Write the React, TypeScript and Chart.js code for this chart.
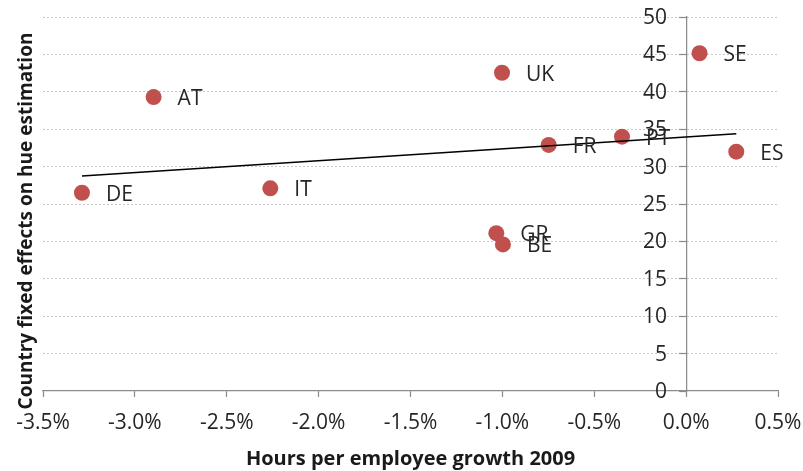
import React, { useEffect, useRef } from 'react';
import { Chart, registerables } from 'chart.js';

Chart.register(...registerables);

// ---- data ----
const countries = ['DE', 'AT', 'IT', 'UK', 'GR', 'BE', 'FR', 'PT', 'SE', 'ES'];
const hoursGrowth = [-3.288, -2.898, -2.263, -1.002, -1.033, -0.997, -0.748, -0.349, 0.073, 0.273];
const fixedEffects = [26.5, 39.3, 27.1, 42.55, 21.1, 19.6, 32.9, 34.0, 45.15, 32.0];

const xAxisRange = [-3.5, 0.5];
const xAxisStep = 0.5;
const yAxisRange = [0, 50];
const yAxisStep = 5;

const xTitle = 'Hours per employee growth 2009';
const yTitle = 'Country fixed effects on hue estimation';

const FONT = "'Open Sans', 'Liberation Sans', sans-serif";

function linearFit(xs: number[], ys: number[]) {
  const n = xs.length;
  const mx = xs.reduce((a, b) => a + b, 0) / n;
  const my = ys.reduce((a, b) => a + b, 0) / n;
  let sxy = 0;
  let sxx = 0;
  for (let i = 0; i < n; i++) {
    sxy += (xs[i] - mx) * (ys[i] - my);
    sxx += (xs[i] - mx) * (xs[i] - mx);
  }
  const slope = sxy / sxx;
  const intercept = my - slope * mx;
  return { slope, intercept };
}

export default function App() {
  const canvasRef = useRef<HTMLCanvasElement | null>(null);

  useEffect(() => {
    document.body.style.margin = '0';
    const canvas = canvasRef.current;
    if (!canvas) return;

    const points = countries.map((_, i) => ({ x: hoursGrowth[i], y: fixedEffects[i] }));
    const fit = linearFit(hoursGrowth, fixedEffects);
    const x0 = Math.min(...hoursGrowth);
    const x1 = Math.max(...hoursGrowth);
    const trend = [
      { x: x0, y: fit.intercept + fit.slope * x0 },
      { x: x1, y: fit.intercept + fit.slope * x1 },
    ];

    const pointLabels = {
      id: 'pointLabels',
      afterDatasetsDraw(chart: any) {
        const meta = chart.getDatasetMeta(1);
        const ctx = chart.ctx;
        ctx.save();
        ctx.font = `21px ${FONT}`;
        ctx.fillStyle = '#262626';
        ctx.textAlign = 'left';
        ctx.textBaseline = 'middle';
        meta.data.forEach((el: any, i: number) => {
          ctx.fillText(countries[i], el.x + 24, el.y + 2);
        });
        ctx.restore();
      },
    };

    const yLabelsAndTitle = {
      id: 'yLabelsAndTitle',
      afterDraw(chart: any) {
        const ctx = chart.ctx;
        const ys = chart.scales.y;
        const xs = chart.scales.x;
        const axisX = xs.getPixelForValue(0);
        ctx.save();
        ctx.font = `21px ${FONT}`;
        ctx.fillStyle = '#262626';
        ctx.textAlign = 'right';
        ctx.textBaseline = 'middle';
        ys.ticks.forEach((t: any) => {
          ctx.fillText(String(t.value), axisX - 19, ys.getPixelForValue(t.value) + 1);
        });
        ctx.restore();

        ctx.save();
        ctx.translate(27, 221);
        ctx.rotate(-Math.PI / 2);
        ctx.font = `bold 19px ${FONT}`;
        ctx.fillStyle = '#1a1a1a';
        ctx.textAlign = 'center';
        ctx.textBaseline = 'middle';
        ctx.fillText(yTitle, 0, 0);
        ctx.restore();
      },
    };

    const chart = new Chart(canvas, {
      type: 'scatter',
      data: {
        datasets: [
          {
            type: 'line',
            label: 'Trend',
            data: trend,
            borderColor: '#000000',
            borderWidth: 1.5,
            pointRadius: 0,
            fill: false,
            order: 0,
          } as any,
          {
            type: 'scatter',
            label: 'Countries',
            data: points,
            backgroundColor: '#C0504D',
            borderColor: '#C0504D',
            borderWidth: 0,
            pointRadius: 8,
            order: 1,
          },
        ],
      },
      options: {
        responsive: false,
        animation: false,
        layout: { padding: { left: 43, right: 25, top: 17, bottom: 0 } },
        plugins: {
          legend: { display: false },
          tooltip: { enabled: false },
        },
        scales: {
          x: {
            type: 'linear',
            position: 'bottom',
            min: xAxisRange[0],
            max: xAxisRange[1],
            afterFit: (scale: any) => {
              scale.height = 80;
              scale.paddingLeft = 0;
              scale.paddingRight = 0;
            },
            ticks: {
              stepSize: xAxisStep,
              padding: 13,
              color: '#262626',
              font: { family: FONT, size: 21 },
              callback: (v: any) => Number(v).toFixed(1) + '%',
            },
            grid: {
              drawOnChartArea: false,
              drawTicks: true,
              tickLength: 6,
              tickColor: '#8c8c8c',
              tickWidth: 1.25,
            },
            border: { display: true, color: '#8c8c8c', width: 1.25 },
            title: {
              display: true,
              text: xTitle,
              color: '#1a1a1a',
              font: { family: FONT, size: 20, weight: 'bold' },
              padding: { top: 0, bottom: 0 },
            },
          },
          y: {
            type: 'linear',
            position: { x: 0 } as any,
            min: yAxisRange[0],
            max: yAxisRange[1],
            afterFit: (scale: any) => {
              scale.paddingTop = 0;
              scale.paddingBottom = 0;
            },
            ticks: {
              stepSize: yAxisStep,
              display: false,
            },
            grid: {
              drawOnChartArea: true,
              color: (c: any) => (c.tick && c.tick.value === 0 ? 'rgba(0,0,0,0)' : '#c8c8c8'),
              lineWidth: 1,
              tickLength: 7,
              tickColor: '#8c8c8c',
              tickWidth: 1.25,
              tickBorderDash: [],
            },
            border: { display: true, color: '#8c8c8c', width: 1.25, dash: [2, 2] },
          },
        },
      },
      plugins: [pointLabels, yLabelsAndTitle],
    });

    return () => chart.destroy();
  }, []);

  return (
    <div style={{ width: 803, height: 471, position: 'relative' }}>
      <canvas ref={canvasRef} width={803} height={471} style={{ width: 803, height: 471, display: 'block' }} />
    </div>
  );
}
